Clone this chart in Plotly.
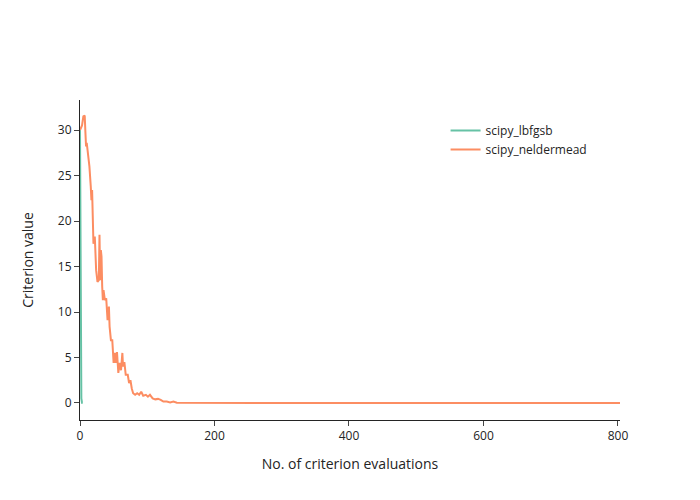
import plotly.graph_objects as go

# scipy_lbfgsb history
lbfgsb_x = [0, 1, 2, 3, 4]
lbfgsb_y = [30.0, 12.0, 0.5, 0.01, 0.0]

# scipy_neldermead history
nm_x = [0, 3, 5, 7, 8, 9, 10, 12, 14, 16,
        17, 18, 19, 20, 22, 23, 24, 26, 28, 29,
        30, 31, 32, 33, 34, 35, 37, 39, 41, 43,
        44, 46, 48, 50, 52, 53, 55, 57, 59, 61,
        63, 64, 66, 68, 71, 73, 75, 77, 79, 82,
        85, 88, 91, 94, 98, 101, 104, 108, 112, 116,
        120, 124, 129, 134, 139, 144, 160, 200, 300, 400,
        500, 600, 700, 803]
nm_y = [30.0, 30.5, 31.5, 31.6, 29.8, 28.2, 28.6, 27.4, 26.0, 23.8,
        22.3, 23.4, 20.5, 17.5, 18.3, 16.5, 14.6, 13.3, 13.5, 18.5,
        13.5, 16.8, 16.1, 12.8, 11.3, 12.4, 11.3, 11.5, 9.1, 10.6,
        8.4, 6.9, 6.9, 4.4, 5.5, 4.4, 5.6, 3.3, 4.4, 3.6,
        5.5, 4.0, 4.5, 3.1, 3.1, 2.2, 2.5, 1.6, 1.07, 0.9,
        1.07, 0.9, 1.24, 0.8, 0.9, 0.7, 0.9, 0.5, 0.4, 0.45,
        0.35, 0.15, 0.15, 0.05, 0.15, 0.02, 0.01, 0.01, 0.005, 0.003,
        0.002, 0.001, 0.0, 0.0]

fig = go.Figure()
fig.add_trace(go.Scatter(x=lbfgsb_x, y=lbfgsb_y, mode="lines", name="scipy_lbfgsb",
                         line=dict(color="#66c2a5", width=2)))
fig.add_trace(go.Scatter(x=nm_x, y=nm_y, mode="lines", name="scipy_neldermead",
                         line=dict(color="#fc8d62", width=2)))

fig.update_layout(
    template="simple_white",
    width=700, height=500,
    margin=dict(l=80, r=80, t=100, b=80),
    font=dict(family='"Open Sans", verdana, arial, sans-serif', size=12),
    xaxis=dict(title=dict(text="No. of criterion evaluations"), range=[0, 803],
               tickvals=[0, 200, 400, 600, 800]),
    yaxis=dict(title=dict(text="Criterion value", standoff=20), range=[-1.87, 33.3],
               tickvals=[0, 5, 10, 15, 20, 25, 30]),
    legend=dict(x=0.677, y=0.95, xanchor="left", yanchor="top"),
)

fig.write_html("out.html")
